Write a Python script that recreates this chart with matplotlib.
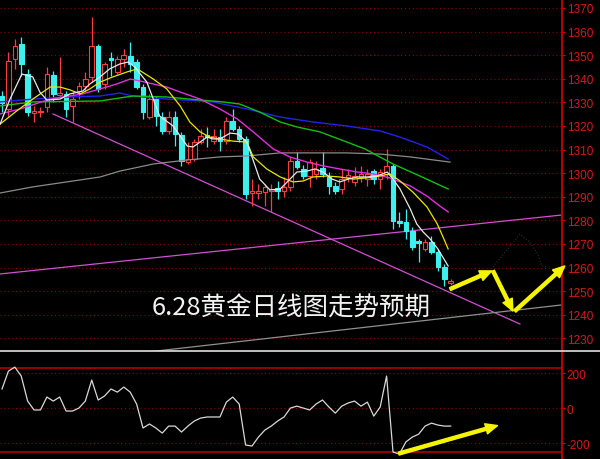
import matplotlib
matplotlib.use("Agg")
import matplotlib.pyplot as plt
from matplotlib.lines import Line2D
from matplotlib.patches import FancyArrowPatch
import numpy as np

# gold daily candles, oldest first
opens = [1332.7, 1327.2, 1348.4, 1354.7, 1342.0, 1325.5, 1325.9, 1328.1, 1341.6, 1333.1,
         1333.6, 1328.5, 1334.8, 1336.9, 1340.8, 1353.9, 1337.8, 1348.8, 1342.9, 1348.4,
         1349.7, 1347.1, 1336.5, 1323.8, 1331.4, 1323.8, 1317.9, 1323.8, 1316.2, 1304.7,
         1306.0, 1313.2, 1316.2, 1313.6, 1315.3, 1313.6, 1322.1, 1318.7, 1314.5, 1291.6,
         1291.6, 1292.0, 1292.5, 1293.7, 1292.5, 1294.2, 1305.2, 1301.8, 1298.8, 1299.7,
         1302.2, 1298.4, 1294.6, 1293.3, 1298.4, 1296.3, 1298.4, 1297.5, 1300.9, 1297.5,
         1299.7, 1303.1, 1279.7, 1279.3, 1275.5, 1271.3, 1267.9, 1270.8, 1266.6, 1260.3,
         1253.5]
highs = [1334.8, 1351.4, 1356.9, 1357.7, 1344.2, 1328.5, 1328.1, 1345.0, 1343.3, 1349.2,
         1334.8, 1334.4, 1338.6, 1342.9, 1366.2, 1354.7, 1347.1, 1351.4, 1349.7, 1352.6,
         1355.6, 1348.4, 1337.8, 1333.6, 1332.7, 1325.9, 1326.4, 1326.4, 1317.5, 1313.2,
         1314.5, 1318.7, 1319.6, 1318.7, 1318.7, 1323.8, 1327.2, 1320.0, 1315.8, 1297.5,
         1295.4, 1295.4, 1295.4, 1296.7, 1298.4, 1306.9, 1309.0, 1303.5, 1306.0, 1305.2,
         1309.0, 1300.5, 1296.3, 1301.8, 1301.8, 1302.6, 1303.1, 1301.8, 1301.8, 1301.8,
         1310.3, 1303.9, 1283.6, 1284.8, 1277.2, 1272.1, 1272.1, 1273.4, 1267.9, 1261.5,
         1255.0]
lows = [1325.9, 1324.2, 1344.2, 1341.2, 1324.2, 1321.7, 1323.8, 1325.9, 1330.2, 1332.3,
        1323.8, 1321.7, 1331.4, 1334.4, 1338.6, 1334.4, 1335.7, 1341.2, 1342.0, 1345.0,
        1342.9, 1335.7, 1323.0, 1323.0, 1320.0, 1316.6, 1316.6, 1311.5, 1303.1, 1303.9,
        1305.2, 1312.4, 1311.1, 1312.4, 1309.4, 1312.4, 1317.9, 1313.2, 1289.1, 1286.1,
        1289.1, 1286.1, 1283.6, 1289.1, 1289.9, 1292.5, 1301.8, 1297.5, 1294.2, 1297.5,
        1298.4, 1291.2, 1291.2, 1291.2, 1296.3, 1294.6, 1296.3, 1294.6, 1295.4, 1293.3,
        1297.5, 1276.4, 1277.2, 1272.1, 1267.5, 1262.4, 1267.0, 1265.8, 1258.6, 1252.2,
        1252.8]
closes = [1329.7, 1347.5, 1353.9, 1346.3, 1325.9, 1326.4, 1326.4, 1342.0, 1333.6, 1334.0,
          1327.2, 1331.4, 1336.9, 1339.9, 1353.9, 1335.7, 1346.3, 1348.0, 1348.4, 1350.1,
          1346.3, 1336.5, 1325.9, 1331.4, 1324.2, 1317.9, 1323.8, 1316.6, 1305.2, 1306.0,
          1313.2, 1315.8, 1315.3, 1315.8, 1313.6, 1322.1, 1318.7, 1314.5, 1291.2, 1292.5,
          1292.5, 1294.2, 1293.3, 1292.5, 1294.2, 1305.2, 1302.6, 1298.8, 1304.7, 1301.8,
          1299.7, 1294.6, 1292.5, 1297.5, 1299.2, 1298.8, 1299.7, 1299.7, 1297.5, 1300.5,
          1303.1, 1279.7, 1278.9, 1275.5, 1268.7, 1270.4, 1270.8, 1266.6, 1260.3, 1255.2,
          1254.3]

# moving averages (bar index, price)
ma5_x = [-0.3, 1.25, 3.1, 4.8, 5.9, 7.0, 9.05, 10.6, 12.6, 13.7, 15.3, 16.8, 18.4, 19.7, 20.7,
         22.6, 24.6, 26.7, 28.9, 29.8, 30.9, 32.0, 32.9, 34.0, 35.6, 36.8, 38.2, 40.2, 41.8,
         43.4, 44.5, 46.0, 47.6, 48.8, 50.1, 51.5, 52.7, 54.0, 55.4, 56.9, 58.5, 60.1, 61.0,
         62.1, 63.7, 64.7, 65.7, 66.8, 68.0, 69.6]
ma5_y = [1320.8, 1331.4, 1342.0, 1340.8, 1334.4, 1331.0, 1331.4, 1333.6, 1334.8, 1337.8,
         1340.8, 1344.2, 1346.3, 1347.1, 1345.0, 1338.6, 1324.2, 1320.0, 1311.5, 1311.1,
         1313.2, 1315.3, 1314.5, 1314.5, 1317.0, 1316.6, 1313.2, 1297.5, 1292.9, 1293.3,
         1296.3, 1300.5, 1300.9, 1301.8, 1300.5, 1297.5, 1296.3, 1297.5, 1298.4, 1298.4,
         1298.8, 1300.5, 1297.5, 1293.3, 1284.8, 1278.5, 1275.1, 1272.1, 1267.9, 1260.7]

ma10_x = [-0.3, 2.3, 4.8, 7.5, 9.05, 10.6, 12.2, 13.7, 15.3, 17.3, 19.5, 21.1, 23.6, 25.7,
          27.8, 29.3, 30.9, 32.4, 34.0, 36.0, 38.2, 39.2, 41.3, 43.4, 45.4, 47.0, 48.5, 50.7,
          52.7, 54.8, 56.9, 59.0, 60.5, 62.1, 64.1, 66.3, 67.9, 68.8, 69.6]
ma10_y = [1320.8, 1326.4, 1331.4, 1336.5, 1336.5, 1335.3, 1333.6, 1335.7, 1338.6, 1340.8,
          1342.9, 1344.2, 1339.9, 1335.7, 1328.5, 1321.7, 1317.5, 1315.3, 1314.5, 1313.6,
          1313.2, 1306.9, 1301.8, 1298.4, 1296.3, 1296.7, 1298.4, 1298.8, 1298.4, 1297.5,
          1298.0, 1298.8, 1299.7, 1296.7, 1292.0, 1285.7, 1278.5, 1273.0, 1267.9]

ma20_x = [-0.3, 2.8, 7.5, 12.6, 15.3, 17.9, 20.0, 21.5, 23.6, 25.7, 27.8, 30.9, 34.0, 36.7,
          39.2, 42.3, 44.9, 47.6, 50.1, 52.7, 55.4, 57.9, 60.5, 63.7, 66.3, 68.3, 69.6]
ma20_y = [1325.1, 1327.2, 1331.4, 1333.6, 1335.7, 1337.8, 1339.9, 1339.1, 1337.8, 1336.5,
          1334.4, 1331.4, 1327.2, 1323.0, 1317.5, 1310.3, 1306.9, 1304.7, 1303.1, 1301.8,
          1300.5, 1299.7, 1298.0, 1294.6, 1290.3, 1286.1, 1283.6]

ma30_x = [-0.3, 4.8, 15.3, 20.4, 25.7, 30.9, 34.5, 37.1, 40.2, 43.4, 46.0, 49.6, 53.8, 56.6,
          61.0, 65.2, 69.6]
ma30_y = [1328.5, 1330.2, 1330.6, 1332.7, 1332.3, 1331.0, 1330.2, 1329.3, 1325.9, 1321.7,
          1319.6, 1317.5, 1313.2, 1310.3, 1303.9, 1298.8, 1293.3]

ma60_x = [-0.3, 4.8, 10.1, 15.3, 18.4, 20.4, 25.7, 30.9, 32.9, 38.2, 43.4, 48.5, 53.8, 59.0,
          62.1, 66.3, 69.6]
ma60_y = [1330.2, 1331.4, 1332.3, 1332.7, 1334.0, 1332.7, 1331.4, 1330.6, 1330.2, 1327.2,
          1323.8, 1321.7, 1320.0, 1317.9, 1315.3, 1311.1, 1306.0]

ma120_x = [-0.3, 4.8, 10.1, 15.3, 18.4, 23.6, 28.9, 34.0, 38.2, 43.4, 53.8, 59.0, 63.7, 69.9]
ma120_y = [1291.6, 1294.2, 1296.3, 1298.4, 1300.9, 1303.9, 1305.6, 1306.9, 1307.3, 1308.6,
           1308.6, 1308.1, 1306.9, 1304.7]

# hand drawn trend lines (bar index, price)
down_line = [(7.96, 1325.1), (80.8, 1236.1)]
up_line = [(-0.31, 1257.3), (87.4, 1282.3)]
base_line = [(22.6, 1224.2), (87.4, 1244.2)]
guess_path_x = [76.6, 80.8, 82.4, 83.6, 84.2, 85.2]
guess_path_y = [1260.3, 1274.2, 1270.8, 1265.7, 1260.7, 1260.3]
arrows = [((69.9, 1250.9), (76.4, 1258.6)),
          ((76.6, 1258.6), (79.7, 1241.6)),
          ((80.0, 1241.6), (87.8, 1260.7))]

# lower panel oscillator
cci = [109, 211, 234, 183, 40, -11, -11, 63, 40, 63, -17, -17, 0, 40, 160, 46, 69, 109, 91,
       120, 91, 23, -114, -91, -114, -143, -103, -103, -137, -103, -74, -57, -51, -51, -51,
       34, 63, 23, -211, -217, -166, -126, -103, -74, -51, 0, 11, 0, -11, 23, 46, 6, -29, 11,
       29, 40, 11, 34, -46, 6, 183, -251, -263, -194, -166, -149, -103, -86, -97, -103, -103]
cci_arrow = ((61.9, -260), (77.3, -100))

price_ticks = list(range(1230, 1371, 10))
cci_ticks = [-200, 0, 200]
title = "6.28黄金日线图走势预期"

red_up = '#ff3c3c'
cyan_dn = '#3cf0f0'
axis_red = '#c80000'
grid_red = '#8c0000'

fig = plt.figure(figsize=(6, 4.6), dpi=100, facecolor='black')
ax = fig.add_axes([0, 108 / 460, 562 / 600, 352 / 460])
ax2 = fig.add_axes([0, 0, 562 / 600, 108 / 460])

xlim = (-2 / 6.41, 560 / 6.41)
for a in (ax, ax2):
    a.set_facecolor('black')
    a.set_xlim(*xlim)
    for s in ('top', 'left', 'bottom'):
        a.spines[s].set_visible(False)
    a.spines['right'].set_color(axis_red)
    a.spines['right'].set_linewidth(1.3)
    a.yaxis.tick_right()
    a.set_xticks([])
    a.tick_params(axis='y', colors=axis_red, labelcolor='#d81818', length=2.5,
                  width=0.8, pad=1, labelsize=8.5)

ax.set_ylim(1224.66, 1373.81)
ax.set_yticks(price_ticks)
ax.set_yticklabels([str(t) for t in price_ticks], family='Liberation Sans')
for t in price_ticks:
    ax.axhline(t, color=grid_red, lw=0.8, ls=(0, (1, 2.5)), zorder=0)

# candles
n = len(opens)
idx = np.arange(n)
for i in range(n):
    up = closes[i] >= opens[i]
    col = red_up if up else cyan_dn
    ax.vlines(i, lows[i], highs[i], color=col, lw=0.9, zorder=2)
    lo, hi = min(opens[i], closes[i]), max(opens[i], closes[i])
    ax.bar(i, max(hi - lo, 0.25), bottom=lo, width=0.72,
           color='black' if up else col, edgecolor=col, lw=0.8, zorder=3)

ax.plot(ma120_x, ma120_y, color='#8a8a8a', lw=0.9, zorder=4)
ax.plot(ma60_x, ma60_y, color='#2222ee', lw=1.0, zorder=4)
ax.plot(ma30_x, ma30_y, color='#10c010', lw=1.0, zorder=4)
ax.plot(ma20_x, ma20_y, color='#e030e0', lw=1.0, zorder=4)
ax.plot(ma10_x, ma10_y, color='#e8e800', lw=0.9, zorder=5)
ax.plot(ma5_x, ma5_y, color='#e8e8e8', lw=0.9, zorder=6)

for line, col in ((down_line, '#d050d0'), (up_line, '#d050d0'), (base_line, '#909090')):
    xs, ys = zip(*line)
    ax.plot(xs, ys, color=col, lw=0.9, zorder=1)

ax.plot(guess_path_x, guess_path_y, color='#2c2c2c', lw=0.8, ls=':', zorder=1)

for start, end in arrows:
    ax.add_patch(FancyArrowPatch(start, end, arrowstyle='simple,head_width=7.5,head_length=8.5,tail_width=2.2',
                                 color='#f5f500', shrinkA=0, shrinkB=0, mutation_scale=1,
                                 zorder=7, clip_on=False))

ax.text(150 / 6.41, 1242.9, title, color='#f2f2f2', fontsize=18.4,
        family=['Noto Sans CJK SC', 'DejaVu Sans'], ha='left', va='center', zorder=8)

# lower panel
ax2.set_ylim(-291, 326)
ax2.set_yticks(cci_ticks)
ax2.set_yticklabels([str(t) for t in cci_ticks], family='Liberation Sans')
for t in cci_ticks:
    ax2.axhline(t, color=grid_red, lw=0.8, ls=(0, (1, 2.5)), zorder=0)
ax2.axhline(230, color='#a00000', lw=1.3, zorder=0)
ax2.axhline(-250, color='#a00000', lw=1.3, zorder=0)
ax2.plot(idx, cci, color='#d8d8d8', lw=0.9, zorder=3)
ax2.add_patch(FancyArrowPatch(cci_arrow[0], cci_arrow[1],
                              arrowstyle='simple,head_width=7.5,head_length=8.5,tail_width=2.2',
                              color='#f5f500', shrinkA=0, shrinkB=0, mutation_scale=1,
                              zorder=7, clip_on=False))

fig.add_artist(Line2D([0, 1], [108 / 460, 108 / 460], transform=fig.transFigure,
                      color='#e0e0e0', lw=1.2))

fig.savefig('out.png', dpi=100, facecolor='black')
